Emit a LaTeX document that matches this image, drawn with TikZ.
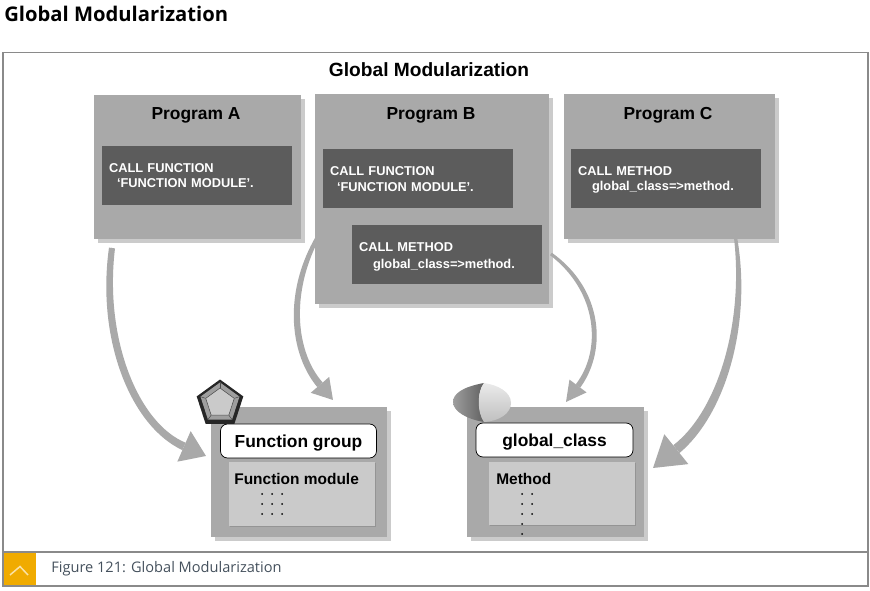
\documentclass[tikz,border=0pt]{standalone}
\usepackage{fontspec}
\setmainfont{Liberation Sans}
\newfontfamily\headfont{Open Sans}
\usetikzlibrary{arrows.meta,shadows,shapes.geometric}
\definecolor{framegray}{HTML}{8A8A8A}
\definecolor{boxgray}{HTML}{A9A9A9}
\definecolor{shadowgray}{HTML}{CBCBCB}
\definecolor{darkgray}{HTML}{5C5C5C}
\definecolor{lightgray}{HTML}{CACACA}
\definecolor{capsgray}{HTML}{F0AB00}
\definecolor{capcolor}{HTML}{44505C}
\tikzset{
	wh/.style 2 args={minimum width=#1*0.02cm, minimum height=#2*0.02cm},
	outerbox/.style={fill=boxgray, inner sep=0pt, drop shadow={shadow xshift=0.08cm, shadow yshift=-0.08cm, fill=shadowgray, opacity=1}},
	callbox/.style={fill=darkgray, wh={190}{59}, inner sep=0pt, text=white, align=left, text width=3.52cm, font=\bfseries\fontsize{7.3}{8.9}\selectfont},
	namebox/.style={fill=white, draw=black, line width=0.4pt, rounded corners=0.14cm, inner sep=0pt, text depth=0pt, font=\bfseries\fontsize{9.9}{12}\selectfont},
	membox/.style={fill=lightgray, inner sep=0pt, drop shadow={shadow xshift=0.02cm, shadow yshift=-0.02cm, fill=black!42, opacity=1}},
	progtitle/.style={inner sep=0pt, text depth=0pt, font=\bfseries\fontsize{9.9}{12}\selectfont},
	memtitle/.style={inner sep=0pt, anchor=west, font=\bfseries\fontsize{8.8}{10}\selectfont},
	flow/.style 2 args={draw=boxgray, line width=0.03cm, -{Triangle[length=#1*0.02cm, width=#2*0.02cm]}},
	listdot/.style={fill=black, circle, inner sep=0pt, minimum size=0.04cm},
}
\begin{document}
\begin{tikzpicture}[x=0.02cm, y=-0.02cm]
	\useasboundingbox (0, 0) rectangle (870, 591);
	%%%%% FRAME %%%%%
	\node[anchor=west, inner sep=0pt, font=\headfont\bfseries\fontsize{11.5}{14}\selectfont] (pagetitle) at (4, 14) {Global Modularization};
	\draw[framegray, line width=0.03cm] (3, 52.5) rectangle (868, 552);
	\draw[framegray, line width=0.03cm] (3, 552) rectangle (868, 586);
	\fill[capsgray] (4, 553) rectangle (36, 585);
	\draw[white!65!capsgray, line width=0.03cm] (10, 575) -- (20, 566.5) -- (28, 575);
	\node[anchor=west, inner sep=0pt, text=capcolor, font=\headfont\fontsize{8.3}{11}\selectfont] (caption) at (51, 568.5) {Figure 121: Global Modularization};
	\node[inner sep=0pt, font=\bfseries\fontsize{10.9}{13}\selectfont] (maintitle) at (429, 70) {Global Modularization};

	%%%%% PROGRAMS %%%%%
	\node[outerbox, wh={207}{144}] (progA) at (197.5, 167) {};
	\node[outerbox, wh={234}{210}] (progB) at (432, 199) {};
	\node[outerbox, wh={211}{145}] (progC) at (669.5, 166.5) {};
	\node[progtitle] (titleA) at (196, 113.5) {Program A};
	\node[progtitle] (titleB) at (431, 113.5) {Program B};
	\node[progtitle] (titleC) at (668, 113.5) {Program C};
	\node[callbox] (callA) at (197, 175.5) {CALL FUNCTION\\\hspace*{0.16cm}‘FUNCTION MODULE’.};
	\node[callbox] (callBfunc) at (418, 179) {CALL FUNCTION\\\hspace*{0.14cm}‘FUNCTION MODULE’.};
	\node[callbox, text height=8.3pt] (callBmeth) at (447, 254.5) {CALL METHOD\\[0.8pt]\hspace*{0.28cm}global\_class=>method.};
	\node[callbox, text height=6.5pt] (callC) at (666, 178.5) {CALL METHOD\\\hspace*{0.28cm}global\_class=>method.};

	%%%%% FUNCTION GROUP %%%%%
	\node[outerbox, wh={176}{130}] (groupbox) at (299, 472) {};
	\node[namebox, wh={156}{34}] (groupname) at (298.5, 441) {Function group};
	\node[membox, wh={146}{64}] (modulebox) at (302, 494) {};
	\node[memtitle] (moduletitle) at (234, 478.5) {Function module};
	\foreach \dx in {262, 272, 282}
		\foreach \dy in {494, 504, 514}
			\node[listdot] at (\dx, \dy) {};
	\node[regular polygon, regular polygon sides=5, fill=black!85, inner sep=0pt, minimum size=0.98cm] (penta) at (220, 404) {};
	\node[regular polygon, regular polygon sides=5, fill=black!38, inner sep=0pt, minimum size=0.82cm] (pentamid) at (220, 403) {};
	\node[regular polygon, regular polygon sides=5, draw=black!70, fill=lightgray, line width=0.3pt, inner sep=0pt, minimum size=0.6cm] (pentain) at (220, 403) {};
	\foreach \corner in {1, 2, 3, 4, 5}
		\draw[black!70, line width=0.3pt] (pentamid.corner \corner) -- (pentain.corner \corner);

	%%%%% CLASS %%%%%
	\node[outerbox, wh={177}{130}] (classbox) at (555.5, 472) {};
	\node[namebox, wh={157}{34}] (classname) at (554.5, 440) {global\_class};
	\node[membox, wh={146}{63}] (methodbox) at (562, 493.5) {};
	\node[memtitle] (methodtitle) at (496, 478.5) {Method};
	\foreach \dx in {522, 532}
		\foreach \dy in {494, 504, 514}
			\node[listdot] at (\dx, \dy) {};
	\node[listdot] at (522, 524) {};
	\node[listdot] at (522, 534) {};
	\shade[left color=black!38, right color=black!62] (484, 383) .. controls (462, 387) and (453, 394) .. (453, 402) .. controls (453, 411) and (466, 419) .. (484, 422) .. controls (477, 412) and (477, 392) .. (484, 383) -- cycle;
	\shade[top color=black!8, bottom color=black!25] (484, 383) .. controls (477, 392) and (477, 412) .. (484, 422) .. controls (500, 421) and (511, 413) .. (511, 403) .. controls (511, 392) and (498, 385) .. (484, 383) -- cycle;

	%%%%% CALLS %%%%%
	\coordinate (tailA) at (112, 248);
	\coordinate (tailBfunc) at (330, 218);
	\coordinate (tailBmeth) at (551, 254);
	\coordinate (tailC) at (732, 218);
	\coordinate (headA) at (206, 456);
	\coordinate (headBfunc) at (333, 400);
	\coordinate (headBmeth) at (566, 402);
	\coordinate (headC) at (653, 468);
	\draw[flow={24}{33}] (tailA) .. controls (100, 340) and (135, 425) .. (headA);
	\draw[flow={20}{24}] (tailBfunc) .. controls (285, 280) and (290, 350) .. (headBfunc);
	\draw[flow={20}{21}] (tailBmeth) .. controls (600, 290) and (605, 350) .. (headBmeth);
	\draw[flow={30}{38}] (tailC) .. controls (752, 310) and (725, 410) .. (headC);
	% widening shafts
	\fill[boxgray] (109, 247.6) .. controls (96, 340.5) and (131.3, 426.5) .. (182.4, 450.1) -- (185.6, 442.7) .. controls (138.7, 423.5) and (104, 339.5) .. (115, 248.4) -- cycle;
	\fill[boxgray] (328.8, 217.1) .. controls (281.7, 279) and (286.5, 350.2) .. (317.3, 387.1) -- (322.7, 382.5) .. controls (293.5, 349.8) and (288.3, 281) .. (331.2, 218.9) -- cycle;
	\fill[boxgray] (551.9, 252.8) .. controls (602.4, 288.6) and (607.8, 349.8) .. (580.2, 387.7) -- (575.8, 384.3) .. controls (602.2, 350.2) and (597.6, 291.4) .. (550.1, 255.2) -- cycle;
	\fill[boxgray] (733, 217.8) .. controls (756, 310) and (729.3, 411.2) .. (679.5, 453) -- (673.3, 445.2) .. controls (720.7, 408.8) and (748, 310) .. (731, 218.2) -- cycle;
\end{tikzpicture}
\end{document}
